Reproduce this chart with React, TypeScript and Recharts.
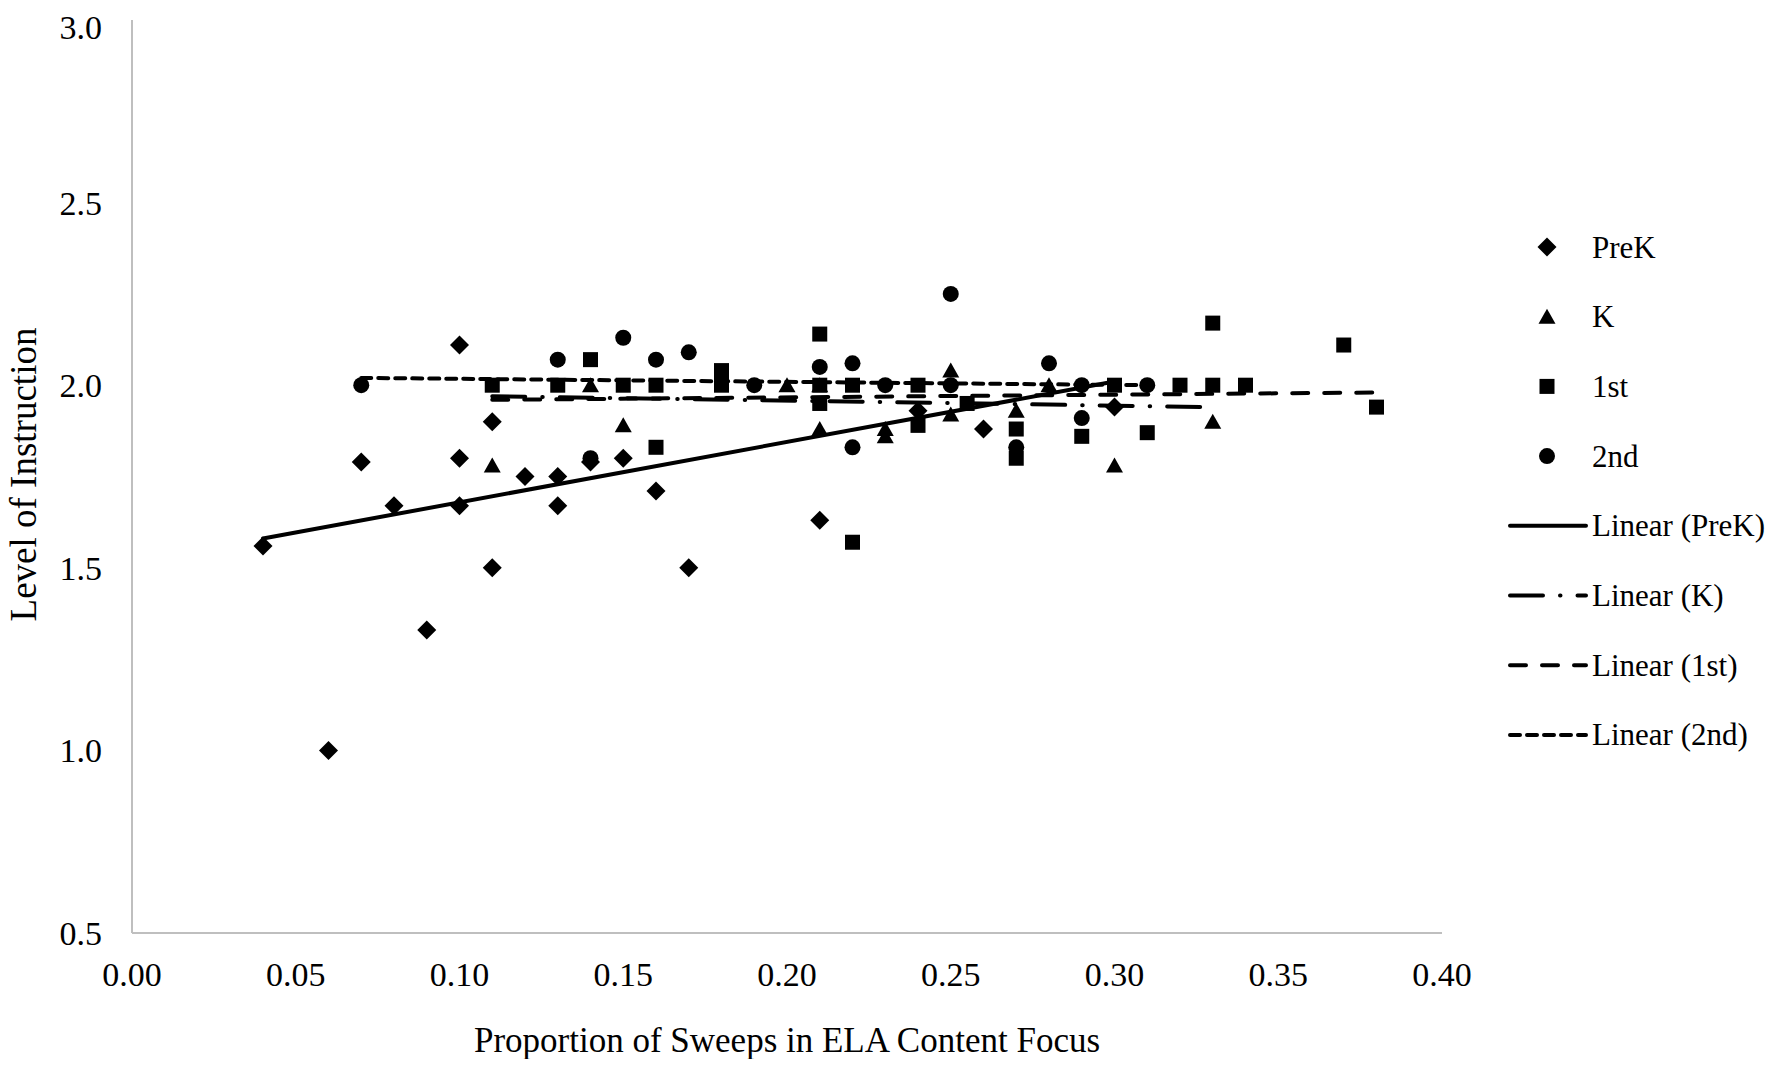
import React from 'react';
import { ScatterChart, Scatter, XAxis, YAxis, Label } from 'recharts';

// [proportion of sweeps, level of instruction]
const preKPoints: [number, number][] = [
  [0.04, 1.56], [0.06, 1.0], [0.07, 1.79], [0.08, 1.67], [0.09, 1.33],
  [0.1, 2.11], [0.1, 1.8], [0.1, 1.67], [0.11, 1.9], [0.11, 1.5],
  [0.12, 1.75], [0.13, 1.75], [0.13, 1.67], [0.14, 1.79], [0.15, 1.8],
  [0.16, 1.71], [0.17, 1.5], [0.21, 1.63], [0.24, 1.93], [0.26, 1.88],
  [0.3, 1.94],
];

const kPoints: [number, number][] = [
  [0.11, 1.78], [0.14, 2.0], [0.15, 1.89], [0.2, 2.0], [0.21, 2.0],
  [0.21, 1.88], [0.23, 1.86], [0.23, 1.88], [0.25, 2.04], [0.25, 1.92],
  [0.27, 1.93], [0.28, 2.0], [0.3, 1.78], [0.33, 1.9],
];

const firstPoints: [number, number][] = [
  [0.11, 2.0], [0.13, 2.0], [0.14, 2.07], [0.15, 2.0], [0.16, 2.0],
  [0.16, 1.83], [0.18, 2.04], [0.18, 2.0], [0.21, 2.14], [0.21, 2.0],
  [0.21, 1.95], [0.22, 2.0], [0.22, 1.57], [0.24, 2.0], [0.24, 1.89],
  [0.255, 1.95], [0.27, 1.88], [0.27, 1.8], [0.29, 1.86], [0.3, 2.0],
  [0.31, 1.87], [0.32, 2.0], [0.33, 2.17], [0.33, 2.0], [0.34, 2.0],
  [0.37, 2.11], [0.38, 1.94],
];

const secondPoints: [number, number][] = [
  [0.07, 2.0], [0.13, 2.07], [0.14, 1.8], [0.15, 2.13], [0.16, 2.07],
  [0.17, 2.09], [0.19, 2.0], [0.21, 2.05], [0.22, 2.06], [0.22, 1.83],
  [0.23, 2.0], [0.25, 2.25], [0.25, 2.0], [0.27, 1.83], [0.28, 2.06],
  [0.29, 2.0], [0.29, 1.91], [0.31, 2.0],
];

// linear trend end points
const preKTrend: [number, number][] = [[0.04, 1.58], [0.3, 2.01]];
const kTrend: [number, number][] = [[0.11, 1.97], [0.33, 1.94]];
const firstTrend: [number, number][] = [[0.11, 1.96], [0.38, 1.98]];
const secondTrend: [number, number][] = [[0.07, 2.02], [0.31, 2.0]];

const xTicks = [0, 0.05, 0.1, 0.15, 0.2, 0.25, 0.3, 0.35, 0.4];
const yTicks = [0.5, 1.0, 1.5, 2.0, 2.5, 3.0];

const legendLabels = ['PreK', 'K', '1st', '2nd', 'Linear (PreK)', 'Linear (K)', 'Linear (1st)', 'Linear (2nd)'];

const toRows = (pts: [number, number][]) => pts.map(([x, y]) => ({ x, y }));

const FONT = '"Liberation Serif", "Times New Roman", serif';
const AXIS_GREY = '#bfbfbf';

const LINE_STYLES = [
  undefined, // solid
  '33 17 0.5 17', // long dash dot
  '16 16', // dash
  '10 7', // short dash
];

const Diamond = ({ cx, cy }: any) => (
  <polygon points={`${cx},${cy - 9.5} ${cx + 9.5},${cy} ${cx},${cy + 9.5} ${cx - 9.5},${cy}`} fill="#000" />
);
const Triangle = ({ cx, cy }: any) => (
  <polygon points={`${cx},${cy - 8} ${cx + 8.5},${cy + 7} ${cx - 8.5},${cy + 7}`} fill="#000" />
);
const Square = ({ cx, cy }: any) => <rect x={cx - 7.5} y={cy - 7.5} width={15} height={15} fill="#000" />;
const Dot = ({ cx, cy }: any) => <circle cx={cx} cy={cy} r={8} fill="#000" />;
const NoMark = () => <g />;

const MARKERS = [Diamond, Triangle, Square, Dot];

const YTitle = ({ viewBox }: any) => {
  const x = 28;
  const cy = viewBox.y + viewBox.height / 2 - 2;
  return (
    <text x={x} y={cy} transform={`rotate(-90 ${x} ${cy})`} textAnchor="middle"
      fontFamily={FONT} fontSize={37} fill="#000">
      Level of Instruction
    </text>
  );
};

const XTitle = ({ viewBox }: any) => (
  <text x={viewBox.x + viewBox.width / 2} y={viewBox.y + 107} textAnchor="middle" dominantBaseline="central"
    fontFamily={FONT} fontSize={35} fill="#000">
    Proportion of Sweeps in ELA Content Focus
  </text>
);

const LegendBox = () => {
  const rowY = (i: number) => 239 + i * 69.7;
  return (
    <svg width={1758} height={1051} style={{ position: 'absolute', left: 0, top: 0, pointerEvents: 'none' }}>
      {legendLabels.map((label, i) => {
        const y = rowY(i);
        const Marker = MARKERS[i];
        return (
          <g key={label}>
            {i < 4 ? (
              <Marker cx={1539} cy={y} />
            ) : (
              <line x1={1502} x2={1578} y1={y} y2={y} stroke="#000" strokeWidth={4}
                strokeLinecap="round" strokeDasharray={LINE_STYLES[i - 4]} />
            )}
            <text x={1584} y={y} dominantBaseline="central" fontFamily={FONT} fontSize={31} fill="#000">
              {label}
            </text>
          </g>
        );
      })}
    </svg>
  );
};

const series = [preKPoints, kPoints, firstPoints, secondPoints];
const trends = [preKTrend, kTrend, firstTrend, secondTrend];

export default function App() {
  return (
    <div style={{ position: 'relative', width: 1758, height: 1051 }}>
      <ScatterChart width={1758} height={1051} margin={{ top: 12, right: 324, bottom: 0, left: 0 }}>
        <XAxis
          type="number"
          dataKey="x"
          domain={[0, 0.4]}
          ticks={xTicks}
          tickFormatter={(v: number) => v.toFixed(2)}
          height={126}
          axisLine={{ stroke: AXIS_GREY, strokeWidth: 2 }}
          tickLine={false}
          tickSize={0}
          tickMargin={29}
          tick={{ fill: '#000', fontSize: 34, fontFamily: FONT }}
          allowDataOverflow
        >
          <Label content={XTitle} />
        </XAxis>
        <YAxis
          type="number"
          dataKey="y"
          domain={[0.5, 3]}
          ticks={yTicks}
          tickFormatter={(v: number) => v.toFixed(1)}
          width={124}
          axisLine={{ stroke: AXIS_GREY, strokeWidth: 2 }}
          tickLine={false}
          tickSize={0}
          tickMargin={30}
          tick={{ fill: '#000', fontSize: 34, fontFamily: FONT }}
          allowDataOverflow
        >
          <Label content={YTitle} />
        </YAxis>
        {trends.map((t, i) => (
          <Scatter
            key={`trend-${i}`}
            data={toRows(t)}
            line={{ stroke: '#000', strokeWidth: 4, strokeDasharray: LINE_STYLES[i], strokeLinecap: 'round' }}
            lineType="joint"
            shape={NoMark}
            legendType="none"
            isAnimationActive={false}
          />
        ))}
        {series.map((s, i) => (
          <Scatter
            key={legendLabels[i]}
            name={legendLabels[i]}
            data={toRows(s)}
            shape={MARKERS[i]}
            isAnimationActive={false}
          />
        ))}
      </ScatterChart>
      <LegendBox />
    </div>
  );
}
